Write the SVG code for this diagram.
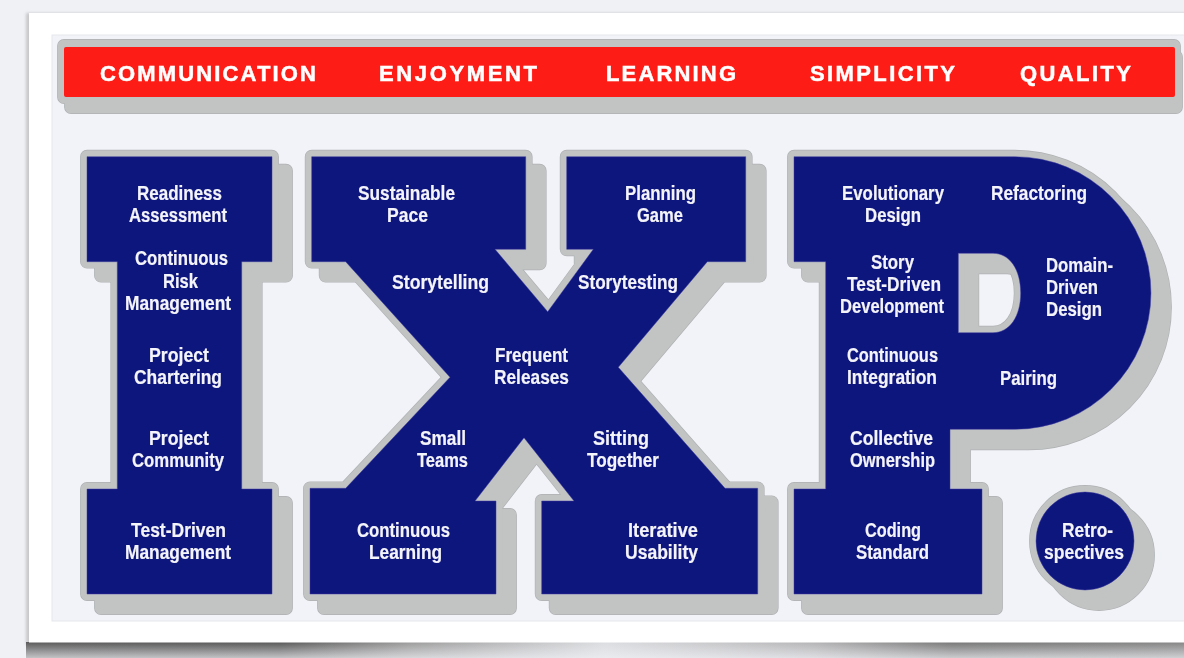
<svg xmlns="http://www.w3.org/2000/svg" xmlns:xlink="http://www.w3.org/1999/xlink" width="1184" height="658" viewBox="0 0 1184 658">
<style>
.e{fill:#aeb1b2;stroke:#aeb1b2;stroke-width:13.8;stroke-linejoin:round;fill-rule:evenodd}
.g{fill:#c1c4c3;stroke:#c1c4c3;stroke-width:12.6;stroke-linejoin:round;fill-rule:evenodd}
.b{fill:#0f127d;stroke:#3d40a0;stroke-width:.5;fill-rule:evenodd}
.t{font:bold 20px "Liberation Sans Narrow","Liberation Sans",Arial,sans-serif;fill:#f4f5fa;stroke:#f4f5fa;stroke-width:.2}
.h{font:bold 22px "Liberation Sans",Arial,sans-serif;fill:#fff;stroke:#fff;stroke-width:.5}
</style>
<defs>
<filter id="soft" filterUnits="userSpaceOnUse" x="0" y="0" width="1184" height="658"><feGaussianBlur stdDeviation="0.5"/></filter>
<filter id="sh" filterUnits="userSpaceOnUse" x="0" y="0" width="1184" height="658"><feGaussianBlur stdDeviation="1.4"/></filter>
<linearGradient id="bs" x1="0" x2="1" y1="0" y2="0">
<stop offset="0" stop-color="#5a5a5a"/><stop offset=".22" stop-color="#585858"/><stop offset=".33" stop-color="#9a9a9a"/><stop offset=".5" stop-color="#dcdde0"/><stop offset=".68" stop-color="#b4b4b6"/><stop offset=".8" stop-color="#767676"/><stop offset="1" stop-color="#858585"/>
</linearGradient>
<linearGradient id="fade" x1="0" x2="0" y1="0" y2="1">
<stop offset="0" stop-color="#f0f1f5" stop-opacity="0"/><stop offset="1" stop-color="#f0f1f5" stop-opacity=".7"/>
</linearGradient>
<path id="pI" d="M87,156.7H272V261.7H241.7V489H272V594H87V489H117.3V261.7H87Z"/>
<path id="pX" d="M311.7,156.7H525.7V249.3H495L547.7,311.7L593.3,249.3H566.7V156.7H745.7V261.7H707.3L618.3,367.3L725,488.3H757.7V594H541.7V501H574L524,437.7L475,501H496V594H310V488.3H345.7L450,377.3L345.7,261.7H311.7Z"/>
<path id="pP" d="M794,156.7H1014.7A136.3,136.3 0 0 1 1014.7,429.3H950V489H982V594H794V489H825.7V261.7H794ZM958.3,253.3V332.7H993C1010,332.7 1020.7,316 1020.7,293C1020.7,270 1010,253.3 993,253.3Z"/>
<circle id="pD" cx="1085" cy="541" r="49"/>
<rect id="pB" x="64" y="47" width="1111" height="50" rx="2"/>
<rect id="pO" x="64" y="46" width="1110" height="51"/>
<rect id="pS" x="71" y="57" width="1105" height="50"/>
</defs>
<rect width="1184" height="658" fill="#f0f1f5"/>
<g id="card">
<rect x="26" y="13" width="1170" height="632" fill="#8a8a8a" opacity=".4" filter="url(#sh)"/>
<rect x="26" y="642" width="1158" height="16" fill="url(#bs)"/>
<rect x="26" y="642" width="1158" height="16" fill="url(#fade)"/>
<rect x="29" y="13" width="1155" height="629.5" fill="#fff"/>
<rect x="52" y="35" width="1140" height="586" fill="#f2f3f8" stroke="#e6e7ec"/>
</g>
<g filter="url(#soft)">
<g id="banner">
<use xlink:href="#pS" class="e"/><use xlink:href="#pO" class="e"/>
<use xlink:href="#pS" class="g"/><use xlink:href="#pO" class="g"/>
<use xlink:href="#pB" fill="#fd1c14"/>
<text class="h" x="100" y="81" textLength="216">COMMUNICATION</text>
<text class="h" x="379" y="81" textLength="158">ENJOYMENT</text>
<text class="h" x="606" y="81" textLength="130">LEARNING</text>
<text class="h" x="810" y="81" textLength="145">SIMPLICITY</text>
<text class="h" x="1020" y="81" textLength="111">QUALITY</text>
</g>
<g id="letter-I">
<use xlink:href="#pI" class="e" transform="translate(14 14)"/><use xlink:href="#pI" class="e"/>
<use xlink:href="#pI" class="g" transform="translate(14 14)"/><use xlink:href="#pI" class="g"/>
<use xlink:href="#pI" class="b"/>
<text class="t" x="137" y="200" textLength="85" lengthAdjust="spacingAndGlyphs">Readiness</text>
<text class="t" x="129" y="222" textLength="98" lengthAdjust="spacingAndGlyphs">Assessment</text>
<text class="t" x="135" y="265" textLength="93" lengthAdjust="spacingAndGlyphs">Continuous</text>
<text class="t" x="163" y="288" textLength="35" lengthAdjust="spacingAndGlyphs">Risk</text>
<text class="t" x="125" y="310" textLength="106" lengthAdjust="spacingAndGlyphs">Management</text>
<text class="t" x="149" y="362" textLength="60" lengthAdjust="spacingAndGlyphs">Project</text>
<text class="t" x="134" y="384" textLength="88" lengthAdjust="spacingAndGlyphs">Chartering</text>
<text class="t" x="149" y="445" textLength="60" lengthAdjust="spacingAndGlyphs">Project</text>
<text class="t" x="132" y="467" textLength="92" lengthAdjust="spacingAndGlyphs">Community</text>
<text class="t" x="131" y="537" textLength="95" lengthAdjust="spacingAndGlyphs">Test-Driven</text>
<text class="t" x="125" y="559" textLength="106" lengthAdjust="spacingAndGlyphs">Management</text>
</g>
<g id="letter-X">
<use xlink:href="#pX" class="e" transform="translate(14 14)"/><use xlink:href="#pX" class="e"/>
<use xlink:href="#pX" class="g" transform="translate(14 14)"/><use xlink:href="#pX" class="g"/>
<use xlink:href="#pX" class="b"/>
<text class="t" x="358" y="200" textLength="97" lengthAdjust="spacingAndGlyphs">Sustainable</text>
<text class="t" x="387" y="222" textLength="41" lengthAdjust="spacingAndGlyphs">Pace</text>
<text class="t" x="625" y="200" textLength="71" lengthAdjust="spacingAndGlyphs">Planning</text>
<text class="t" x="637" y="222" textLength="46" lengthAdjust="spacingAndGlyphs">Game</text>
<text class="t" x="392" y="289" textLength="97" lengthAdjust="spacingAndGlyphs">Storytelling</text>
<text class="t" x="578" y="289" textLength="100" lengthAdjust="spacingAndGlyphs">Storytesting</text>
<text class="t" x="495" y="362" textLength="73" lengthAdjust="spacingAndGlyphs">Frequent</text>
<text class="t" x="494" y="384" textLength="75" lengthAdjust="spacingAndGlyphs">Releases</text>
<text class="t" x="420" y="445" textLength="46" lengthAdjust="spacingAndGlyphs">Small</text>
<text class="t" x="417" y="467" textLength="51" lengthAdjust="spacingAndGlyphs">Teams</text>
<text class="t" x="593" y="445" textLength="56" lengthAdjust="spacingAndGlyphs">Sitting</text>
<text class="t" x="587" y="467" textLength="72" lengthAdjust="spacingAndGlyphs">Together</text>
<text class="t" x="357" y="537" textLength="93" lengthAdjust="spacingAndGlyphs">Continuous</text>
<text class="t" x="369" y="559" textLength="73" lengthAdjust="spacingAndGlyphs">Learning</text>
<text class="t" x="628" y="537" textLength="70" lengthAdjust="spacingAndGlyphs">Iterative</text>
<text class="t" x="625" y="559" textLength="73" lengthAdjust="spacingAndGlyphs">Usability</text>
</g>
<g id="letter-P">
<use xlink:href="#pP" class="e" transform="translate(14 14)"/><use xlink:href="#pP" class="e"/>
<use xlink:href="#pP" class="g" transform="translate(14 14)"/><use xlink:href="#pP" class="g"/>
<use xlink:href="#pP" class="b"/>
<text class="t" x="842" y="200" textLength="102" lengthAdjust="spacingAndGlyphs">Evolutionary</text>
<text class="t" x="865" y="222" textLength="56" lengthAdjust="spacingAndGlyphs">Design</text>
<text class="t" x="991" y="200" textLength="96" lengthAdjust="spacingAndGlyphs">Refactoring</text>
<text class="t" x="871" y="269" textLength="43" lengthAdjust="spacingAndGlyphs">Story</text>
<text class="t" x="847" y="291" textLength="94" lengthAdjust="spacingAndGlyphs">Test-Driven</text>
<text class="t" x="840" y="313" textLength="104" lengthAdjust="spacingAndGlyphs">Development</text>
<text class="t" x="1046" y="272" textLength="67" lengthAdjust="spacingAndGlyphs">Domain-</text>
<text class="t" x="1046" y="294" textLength="52" lengthAdjust="spacingAndGlyphs">Driven</text>
<text class="t" x="1046" y="316" textLength="56" lengthAdjust="spacingAndGlyphs">Design</text>
<text class="t" x="847" y="362" textLength="91" lengthAdjust="spacingAndGlyphs">Continuous</text>
<text class="t" x="847" y="384" textLength="90" lengthAdjust="spacingAndGlyphs">Integration</text>
<text class="t" x="1000" y="385" textLength="57" lengthAdjust="spacingAndGlyphs">Pairing</text>
<text class="t" x="850" y="445" textLength="83" lengthAdjust="spacingAndGlyphs">Collective</text>
<text class="t" x="850" y="467" textLength="85" lengthAdjust="spacingAndGlyphs">Ownership</text>
<text class="t" x="865" y="537" textLength="56" lengthAdjust="spacingAndGlyphs">Coding</text>
<text class="t" x="856" y="559" textLength="73" lengthAdjust="spacingAndGlyphs">Standard</text>
</g>
<g id="dot">
<use xlink:href="#pD" class="e" transform="translate(14 14)"/><use xlink:href="#pD" class="e"/>
<use xlink:href="#pD" class="g" transform="translate(14 14)"/><use xlink:href="#pD" class="g"/>
<use xlink:href="#pD" class="b"/>
<text class="t" x="1062" y="537" textLength="51" lengthAdjust="spacingAndGlyphs">Retro-</text>
<text class="t" x="1044" y="559" textLength="80" lengthAdjust="spacingAndGlyphs">spectives</text>
</g>
</g>
</svg>
